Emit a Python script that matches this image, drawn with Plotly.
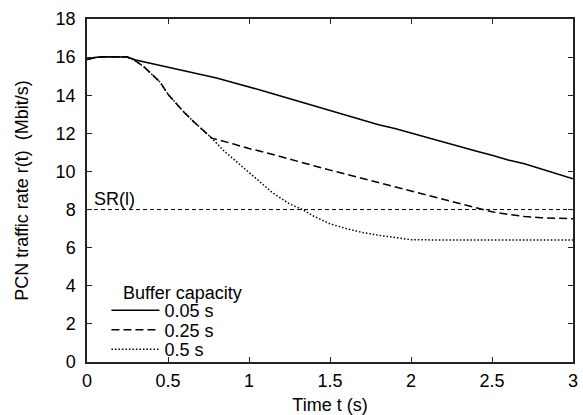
import plotly.graph_objects as go

# ---- data ----
t_005 = [0, 0.05, 0.1, 0.2, 0.25, 0.3, 0.4, 0.5, 0.6, 0.7, 0.8, 0.9, 1.0, 1.1, 1.2, 1.3,
         1.4, 1.5, 1.6, 1.7, 1.8, 1.9, 2.0, 2.1, 2.2, 2.3, 2.4, 2.5, 2.6, 2.7, 2.8, 2.9, 3.0]
r_005 = [15.88, 15.98, 16.02, 16.02, 16.0, 15.85, 15.66, 15.5, 15.3, 15.1, 14.9, 14.67, 14.45,
         14.2, 13.95, 13.7, 13.45, 13.2, 12.95, 12.7, 12.45, 12.25, 12.0, 11.78, 11.55, 11.3,
         11.07, 10.85, 10.6, 10.4, 10.15, 9.9, 9.62]

t_025 = [0, 0.05, 0.1, 0.2, 0.25, 0.3, 0.35, 0.4, 0.45, 0.5, 0.55, 0.6, 0.66, 0.7, 0.77,
         0.9, 1.0, 1.1, 1.2, 1.3, 1.4, 1.5, 1.6, 1.7, 1.8, 1.9, 2.0, 2.1, 2.2, 2.3, 2.4,
         2.5, 2.6, 2.7, 2.8, 2.9, 3.0]
r_025 = [15.88, 15.98, 16.02, 16.02, 16.0, 15.8, 15.5, 15.1, 14.7, 14.05, 13.55, 13.1, 12.6,
         12.3, 11.75, 11.45, 11.2, 11.0, 10.78, 10.55, 10.3, 10.07, 9.85, 9.64, 9.42, 9.2,
         8.98, 8.77, 8.55, 8.33, 8.08, 7.88, 7.75, 7.64, 7.57, 7.53, 7.52]

t_05 = [0, 0.05, 0.1, 0.2, 0.25, 0.3, 0.35, 0.4, 0.45, 0.5, 0.55, 0.6, 0.66, 0.7, 0.77,
        0.84, 1.0, 1.15, 1.25, 1.33, 1.4, 1.5, 1.6, 1.7, 1.8, 1.9, 2.0, 2.2, 2.4, 2.6,
        2.8, 3.0]
r_05 = [15.88, 15.98, 16.02, 16.02, 16.0, 15.8, 15.5, 15.1, 14.7, 14.05, 13.55, 13.1, 12.6,
        12.3, 11.75, 11.12, 9.95, 8.85, 8.3, 8.0, 7.65, 7.25, 7.0, 6.8, 6.65, 6.52, 6.42,
        6.4, 6.4, 6.4, 6.4, 6.4]

sr_level = 8
sr_label = "SR(l)"
series_names = ["0.05 s", "0.25 s", "0.5 s"]
legend_title = "Buffer capacity"
x_ticks = [0, 0.5, 1, 1.5, 2, 2.5, 3]
y_ticks = [0, 2, 4, 6, 8, 10, 12, 14, 16, 18]

FONT = "Liberation Sans, Arial, Helvetica, sans-serif"
FS = 18

fig = go.Figure()

fig.add_trace(go.Scatter(x=[0, 3], y=[sr_level, sr_level], mode="lines",
                         line=dict(color="black", width=1, dash="4px,3px"),
                         showlegend=False, hoverinfo="skip"))

fig.add_trace(go.Scatter(x=t_005, y=r_005, mode="lines", name=series_names[0],
                         line=dict(color="black", width=1.5), legend="legend"))
fig.add_trace(go.Scatter(x=t_025, y=r_025, mode="lines", name=series_names[1],
                         line=dict(color="black", width=1.5, dash="8px,4px"), legend="legend2"))
fig.add_trace(go.Scatter(x=t_05, y=r_05, mode="lines", name=series_names[2],
                         line=dict(color="black", width=1.5, dash="1.5px,2px"), legend="legend3"))

axis_common = dict(showline=True, linecolor="#222", linewidth=1.5, mirror="ticks",
                   ticks="inside", ticklen=5, tickwidth=1, tickcolor="#222",
                   showgrid=False, zeroline=False,
                   tickfont=dict(family=FONT, size=FS, color="black"))

fig.update_xaxes(range=[0, 3], tickvals=x_ticks, ticklabelstandoff=2, **axis_common,
                 title=dict(text="Time t (s)", font=dict(family=FONT, size=FS, color="black"),
                            standoff=10))
fig.update_yaxes(range=[0, 18], tickvals=y_ticks, ticklabelstandoff=6, **axis_common,
                 title=dict(text="PCN traffic rate r(t)  (Mbit/s)",
                            font=dict(family=FONT, size=FS, color="black"), standoff=22))

leg_common = dict(x=0.04, xanchor="left", yanchor="middle", bgcolor="rgba(0,0,0,0)",
                  font=dict(family=FONT, size=FS, color="black"), itemwidth=48)

fig.update_layout(
    width=583, height=415,
    margin=dict(l=87, r=10, t=19, b=53, autoexpand=False),
    plot_bgcolor="white", paper_bgcolor="white",
    legend=dict(y=(362 - 310.5) / 343, **leg_common),
    legend2=dict(y=(362 - 330) / 343, **leg_common),
    legend3=dict(y=(362 - 349.5) / 343, **leg_common),
    annotations=[
        dict(x=0.03, y=sr_level, xref="x", yref="y", text=sr_label, showarrow=False,
             xanchor="left", yanchor="bottom", yshift=-1,
             font=dict(family=FONT, size=FS, color="black")),
        dict(x=(121 - 87) / 486, y=(362 - 293) / 343, xref="paper", yref="paper",
             text=legend_title, showarrow=False, xanchor="left", yanchor="middle",
             font=dict(family=FONT, size=FS, color="black")),
    ],
)

fig.write_html("out.html")
